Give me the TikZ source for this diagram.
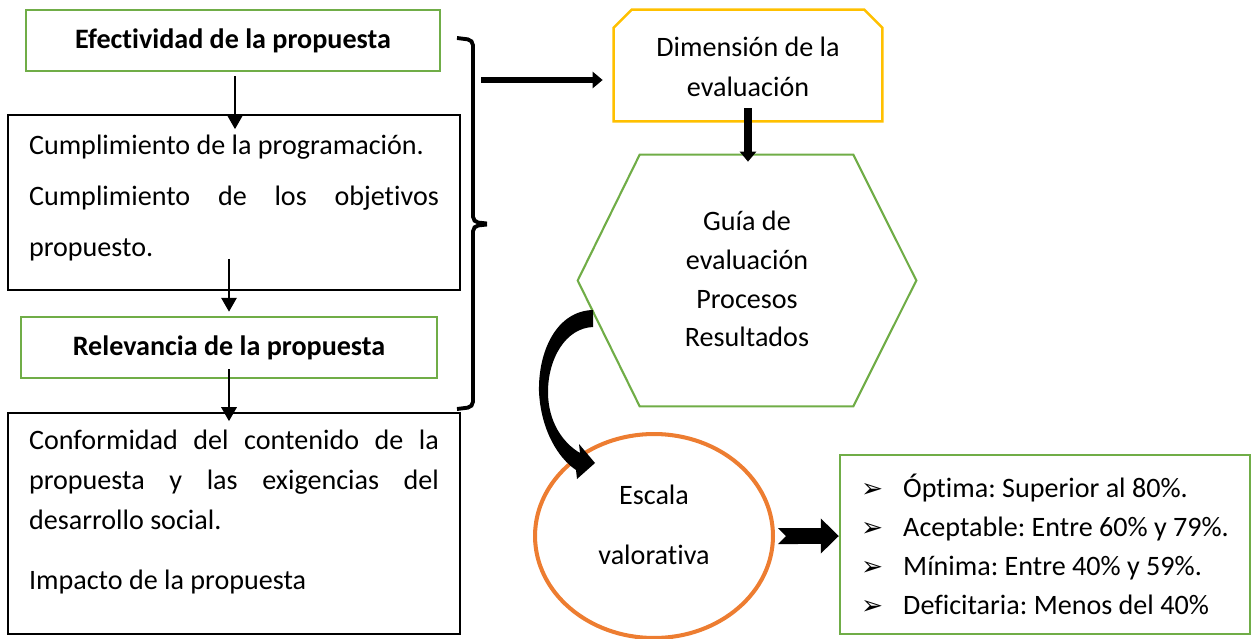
\documentclass[tikz,border=0pt]{standalone}
\usepackage{fontspec}
\setmainfont{Carlito}[Ligatures=NoCommon]
\newfontfamily\symfont{DejaVu Sans}
\usetikzlibrary{arrows.meta,shapes.geometric,calc}
\setlength\parindent{0pt}
\frenchspacing
\definecolor{boxgreen}{HTML}{70AD47}
\definecolor{boxyellow}{HTML}{FFC000}
\definecolor{boxorange}{HTML}{ED7D31}
\newcommand\arrowbullet{\makebox[0.84cm][l]{\symfont\fontsize{15pt}{15pt}\selectfont ➢}}

\begin{document}
\begin{tikzpicture}[x=0.02cm, y=-0.02cm,
	every node/.style={font=\fontsize{16pt}{22.4pt}\selectfont},
	greenbox/.style={draw=boxgreen, line width=1.4pt, minimum height=1.22cm, font=\fontsize{16pt}{22.4pt}\selectfont\bfseries},
	blackbox/.style={draw, line width=0.9pt, text width=8.2cm, inner xsep=0.42cm, align=justify},
	arr/.style={line width=1.7pt, -{Triangle[length=0.28cm, width=0.3cm]}},
	wide/.style={line width=3.4pt, -{Triangle[length=0.2cm, width=0.32cm]}},
	brace/.style={line width=2.2pt, rounded corners=3pt}]
	\useasboundingbox (0,0) rectangle (1251,639);
	% left column
	\node[greenbox, minimum width=8.28cm] (efec) at (233,40.5) {Efectividad de la propuesta};
	\node[blackbox, minimum height=3.5cm, font=\fontsize{16pt}{28.9pt}\selectfont] (cump) at (234,202.5)
		{Cumplimiento de la programación.\par Cumplimiento de los objetivos\linebreak propuesto.\rule[-0.28cm]{0pt}{0pt}};
	\node[greenbox, minimum width=8.32cm] (relev) at (229,347.5) {Relevancia de la propuesta};
	\node[blackbox, minimum height=4.42cm, font=\fontsize{16pt}{22.7pt}\selectfont] (conf) at (234,523.5)
		{Conformidad del contenido de la\linebreak propuesta y las exigencias del\linebreak desarrollo social.\par\vspace{0.4cm}Impacto de la propuesta\rule[-0.56cm]{0pt}{0pt}};
	\draw[arr, shorten <=0.08cm, shorten >=-0.3cm] ([xshift=0.04cm]efec.south) -- ([xshift=0.04cm]efec.south |- cump.north);
	\draw[arr, shorten <=-0.64cm, shorten >=0.08cm] (relev.north |- cump.south) -- (relev.north);
	\draw[arr, shorten <=-0.2cm, shorten >=-0.18cm] (relev.south) -- (relev.south |- conf.north);
	% brace
	\draw[brace] (457,38) -- (473,40) -- (473,222) -- (487,223.5);
	\draw[brace] (487,224.5) -- (473,226) -- (473,407) -- (457,409);
	% right column
	\node[minimum width=5.36cm, minimum height=2.22cm, align=center] (dim) at (748,67) {Dimensión de la\\evaluación};
	\draw[boxyellow, line width=1.4pt] ([yshift=0.03cm]dim.south west) -- ([yshift=-0.33cm]dim.north west) -- ([xshift=0.36cm, yshift=0.03cm]dim.north west)
		-- ([xshift=-0.36cm, yshift=0.03cm]dim.north east) -- ([yshift=-0.33cm]dim.north east) -- ([yshift=0.03cm]dim.south east) -- cycle;
	\coordinate (bt) at (481,80);
	\draw[wide, shorten >=0.22cm] (bt) -- (bt -| dim.west);
	\node[minimum width=6.76cm, minimum height=5.02cm, align=center, font=\fontsize{16pt}{22.1pt}\selectfont] (guia) at (747,279)
		{Guía de\\evaluación\\Procesos\\Resultados};
	\draw[boxgreen, line width=1.2pt] ([yshift=-0.03cm]guia.west) -- ([xshift=1.24cm, yshift=-0.03cm]guia.north west) -- ([xshift=-1.26cm, yshift=-0.03cm]guia.north east)
		-- ([yshift=-0.03cm]guia.east) -- ([xshift=-1.26cm, yshift=-0.03cm]guia.south east) -- ([xshift=1.24cm, yshift=-0.03cm]guia.south west) -- cycle;
	\draw[line width=4pt, -{Triangle[length=0.2cm, width=0.32cm]}, shorten <=-0.29cm, shorten >=-0.17cm] (dim.south) -- (dim.south |- guia.north);
	\node[ellipse, draw=boxorange, line width=2.3pt, minimum width=4.76cm, minimum height=4.08cm] (escala) at (654,536) {};
	\node[align=center] (escalatxt) at (654,525) {Escala\\[0.42cm]valorativa};
	% curved block arrow
	\fill (593,310) .. controls (556,311) and (538,352) .. (539,392) .. controls (541,430) and (558,458) .. (576,470)
		-- (577,479) -- (595,463) -- (579,444) -- (580,453)
		.. controls (563,443) and (548,422) .. (548,392) .. controls (548,358) and (566,328) .. (593,327) -- cycle;
	\node[draw=boxgreen, line width=1.4pt, minimum width=8.2cm, minimum height=3.58cm, align=left,
		font=\fontsize{16pt}{22.1pt}\selectfont] (nivel) at (1045,544.5)
		{\arrowbullet Óptima: Superior al 80\%.\\
		 \arrowbullet Aceptable: Entre 60\% y 79\%.\\
		 \arrowbullet Mínima: Entre 40\% y 59\%.\\
		 \arrowbullet Deficitaria: Menos del 40\%};
	\draw[line width=0.32cm, {Triangle Cap[reversed]}-{Triangle[length=0.36cm, width=0.68cm]}, shorten <=0.06cm]
		(escala.east) -- (escala.east -| nivel.west);
\end{tikzpicture}
\end{document}
